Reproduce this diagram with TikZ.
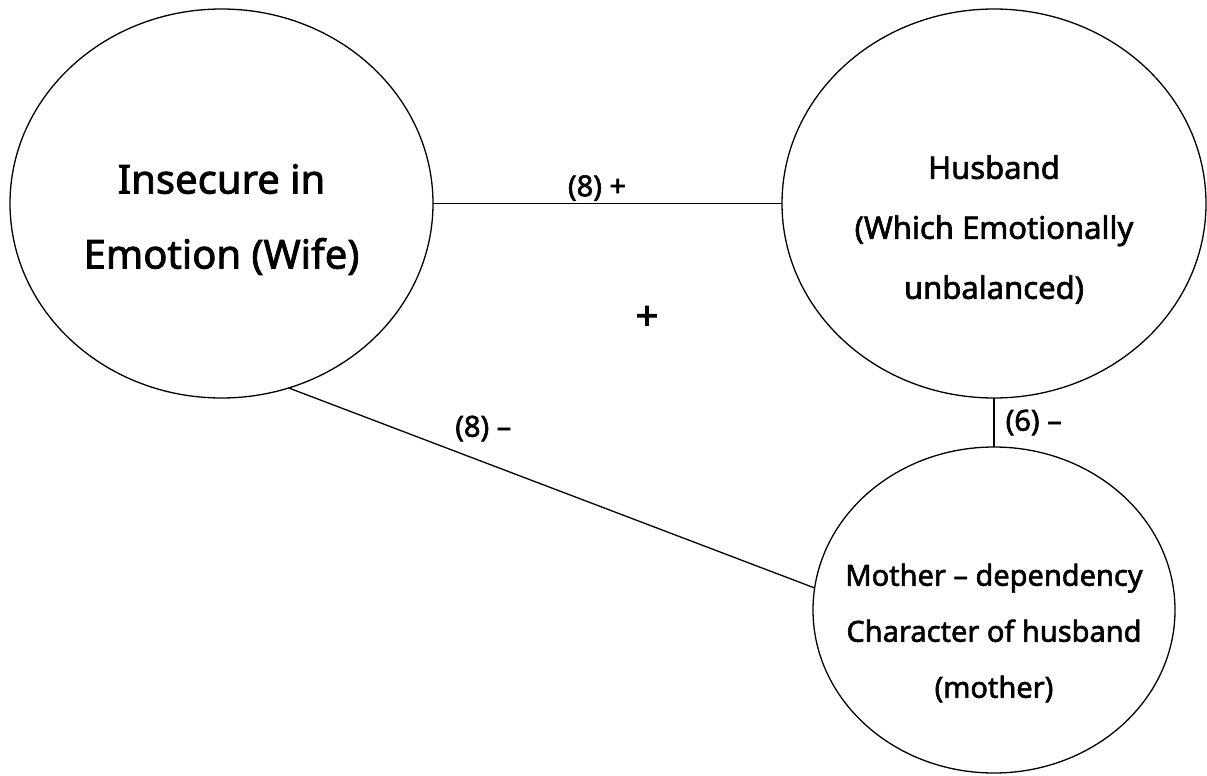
\documentclass[tikz,border=0pt]{standalone}
\usepackage{fontspec}
\setmainfont{Noto Sans}[FakeBold=2]
\usetikzlibrary{shapes.geometric,positioning}

\begin{document}
\begin{tikzpicture}[x=1pt, y=-1pt, line width=1.3pt,
    bubble/.style={draw, ellipse, inner sep=0pt, outer sep=0pt},
    tag/.style={inner sep=2pt, font=\fontsize{29}{34}\selectfont}]

    \useasboundingbox (0,0) rectangle (1207,776);

    \node[bubble, minimum width=423pt, minimum height=389pt] (wife) at (221.5,203.5) {};
    \node[bubble, minimum width=424pt, minimum height=389pt] (husband) at (994,203.5) {};
    \node[bubble, minimum width=362pt, minimum height=326pt] (mother) at (994,610) {};

    \node[align=center, font=\fontsize{40}{75}\selectfont] (wifetext)
        at ([yshift=-16pt]wife.center) {Insecure in\\Emotion (Wife)};
    \node[align=center, font=\fontsize{31}{60}\selectfont] (husbandtext)
        at ([yshift=-26pt]husband.center) {Husband\\(Which Emotionally\\unbalanced)};
    \node[align=center, font=\fontsize{29}{56}\selectfont] (mothertext)
        at ([yshift=-23pt]mother.center) {Mother – dependency\\Character of husband\\(mother)};

    \node[tag, font=\fontsize{40}{44}\selectfont] (sign) at (647,318) {+};

    \path
        (wife) edge node[tag, above, pos=0.47] {(8) +} (husband)
        (husband.south) edge node[tag, right=9pt] {(6) –} (mother.north)
        (wife.-70) edge node[tag, above=18pt, pos=0.37] {(8) –} (mother.173);
\end{tikzpicture}
\end{document}
